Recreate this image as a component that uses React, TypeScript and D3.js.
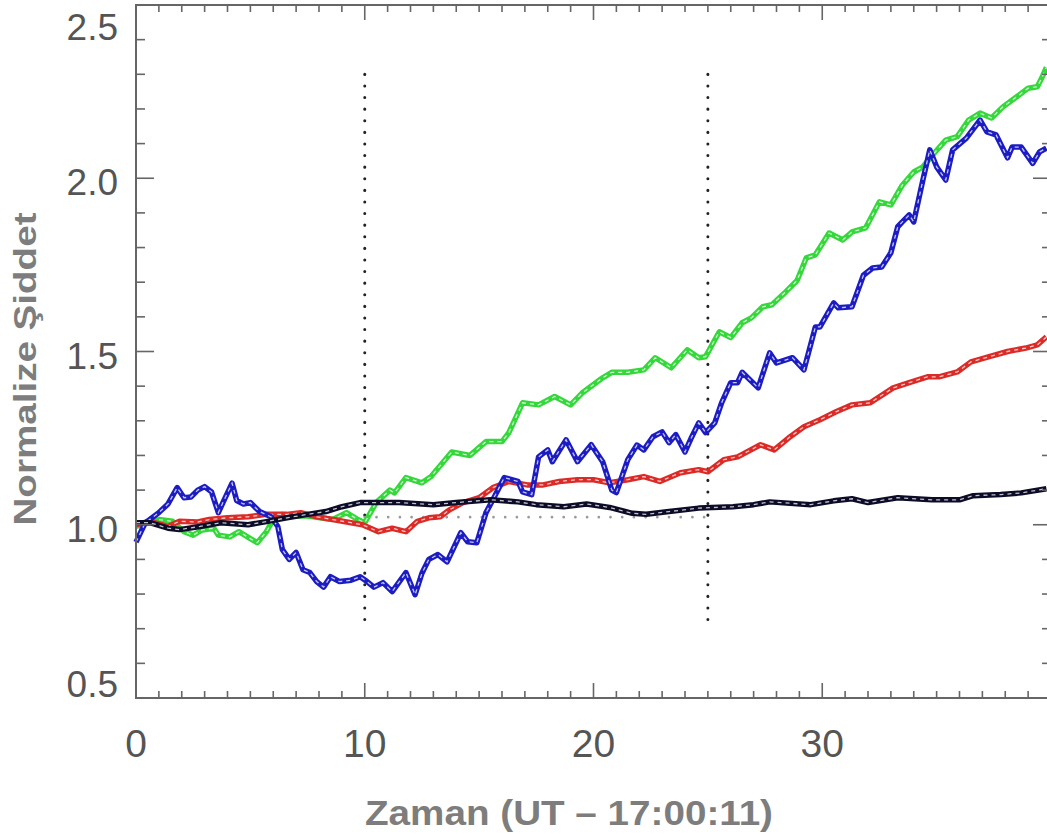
import React from 'react';
import * as d3 from 'd3';

// time (s since 17:00:11) / normalized intensity
const blueT = [0, 0.4, 1.0, 1.4, 1.8, 2.1, 2.4, 2.7, 3.0, 3.3, 3.6, 3.8, 4.2, 4.4, 4.7, 5.0, 5.4, 5.9, 6.2, 6.4, 6.7, 7.0, 7.3, 7.6, 7.9, 8.2, 8.5, 8.9, 9.4, 9.8, 10.1, 10.4, 10.8, 11.2, 11.8, 12.2, 12.5, 12.8, 13.2, 13.6, 14.2, 14.5, 14.9, 15.3, 15.6, 16.1, 16.7, 16.9, 17.3, 17.6, 18.0, 18.2, 18.8, 19.3, 19.9, 20.4, 20.8, 21.0, 21.5, 21.9, 22.2, 22.6, 23.0, 23.3, 23.6, 24.0, 24.3, 24.6, 24.9, 25.3, 25.6, 26.0, 26.3, 26.5, 27.2, 27.7, 28.0, 28.7, 29.2, 29.7, 29.9, 30.5, 30.7, 31.3, 31.8, 32.2, 32.6, 33.0, 33.3, 33.5, 33.8, 34.0, 34.4, 34.7, 35.0, 35.4, 35.7, 36.3, 36.9, 37.2, 37.6, 38.1, 38.3, 38.7, 39.2, 39.5, 39.8];
const blueV = [0.95, 1.005, 1.035, 1.06, 1.107, 1.078, 1.08, 1.1, 1.11, 1.095, 1.035, 1.064, 1.12, 1.07, 1.06, 1.064, 1.038, 1.023, 0.995, 0.928, 0.9, 0.92, 0.87, 0.862, 0.836, 0.82, 0.85, 0.836, 0.84, 0.85, 0.836, 0.82, 0.833, 0.807, 0.862, 0.798, 0.86, 0.9, 0.914, 0.893, 0.977, 0.951, 0.948, 1.035, 1.072, 1.136, 1.125, 1.095, 1.087, 1.196, 1.216, 1.182, 1.245, 1.182, 1.231, 1.182, 1.1, 1.093, 1.188, 1.23, 1.216, 1.254, 1.268, 1.237, 1.26, 1.21, 1.254, 1.294, 1.266, 1.294, 1.352, 1.41, 1.41, 1.44, 1.395, 1.496, 1.467, 1.482, 1.447, 1.571, 1.571, 1.64, 1.626, 1.629, 1.72, 1.741, 1.744, 1.785, 1.86, 1.874, 1.894, 1.874, 1.995, 2.082, 2.033, 1.995, 2.082, 2.116, 2.168, 2.134, 2.125, 2.059, 2.09, 2.09, 2.043, 2.076, 2.087];

const greenT = [0, 1.0, 1.6, 2.1, 2.5, 2.9, 3.4, 3.6, 4.1, 4.5, 5.0, 5.3, 5.7, 6.0, 6.4, 6.9, 7.5, 8.6, 9.2, 9.7, 10.0, 10.5, 11.1, 11.3, 11.8, 12.5, 12.9, 13.8, 14.6, 15.3, 16.0, 16.3, 16.9, 17.6, 18.3, 19.0, 19.5, 20.4, 20.8, 21.5, 22.2, 22.7, 23.4, 24.1, 24.6, 24.9, 25.5, 26.0, 26.5, 26.9, 27.4, 27.8, 28.4, 28.9, 29.3, 29.7, 30.3, 30.9, 31.3, 31.9, 32.5, 33.0, 33.5, 34.0, 34.4, 34.9, 35.4, 35.9, 36.4, 36.9, 37.4, 37.9, 38.5, 39.0, 39.4, 39.6, 39.8];
const greenV = [0.995, 1.015, 1.01, 0.98, 0.97, 0.985, 0.99, 0.97, 0.965, 0.98, 0.96, 0.948, 0.98, 1.015, 1.03, 1.025, 1.025, 1.015, 1.035, 1.015, 1.006, 1.064, 1.1, 1.092, 1.136, 1.121, 1.139, 1.21, 1.2, 1.24, 1.24, 1.266, 1.352, 1.346, 1.37, 1.346, 1.38, 1.424, 1.44, 1.44, 1.447, 1.482, 1.453, 1.505, 1.482, 1.485, 1.557, 1.54, 1.583, 1.597, 1.629, 1.635, 1.672, 1.705, 1.77, 1.779, 1.842, 1.822, 1.845, 1.857, 1.932, 1.923, 1.98, 2.018, 2.033, 2.073, 2.11, 2.12, 2.168, 2.188, 2.174, 2.206, 2.235, 2.26, 2.264, 2.29, 2.32];

const redT = [0, 0.6, 1.4, 1.9, 2.7, 3.2, 4.0, 4.9, 5.7, 6.6, 7.2, 7.9, 8.6, 9.4, 9.9, 10.6, 11.2, 11.8, 12.3, 12.8, 13.3, 13.7, 14.3, 15.0, 15.6, 16.3, 17.1, 17.8, 18.5, 19.3, 20.0, 20.7, 21.5, 22.2, 22.9, 23.8, 24.6, 25.0, 25.7, 26.3, 27.3, 27.9, 28.6, 29.2, 29.9, 30.6, 31.3, 32.1, 33.1, 33.8, 34.6, 35.1, 35.9, 36.5, 37.3, 38.1, 38.9, 39.4, 39.8];
const redV = [1.0, 1.01, 0.995, 1.01, 1.008, 1.015, 1.02, 1.023, 1.03, 1.03, 1.035, 1.023, 1.015, 1.006, 1.0, 0.98, 0.99, 0.98, 1.01, 1.02, 1.023, 1.043, 1.064, 1.078, 1.107, 1.125, 1.115, 1.115, 1.125, 1.13, 1.13, 1.121, 1.13, 1.139, 1.125, 1.15, 1.159, 1.153, 1.188, 1.196, 1.231, 1.216, 1.254, 1.283, 1.303, 1.326, 1.346, 1.352, 1.395, 1.41, 1.427, 1.427, 1.441, 1.47, 1.485, 1.5, 1.51, 1.519, 1.542];

const blackT = [0, 0.6, 1.4, 1.9, 2.8, 3.7, 4.9, 5.7, 6.6, 7.5, 8.3, 9.0, 9.8, 10.5, 11.5, 13.0, 14.0, 15.5, 16.7, 17.5, 18.7, 19.7, 20.7, 21.7, 22.3, 23.3, 24.6, 26.1, 27.0, 27.7, 29.5, 30.5, 31.3, 32.0, 33.3, 34.8, 36.0, 36.6, 37.8, 38.7, 39.8];
const blackV = [1.006, 1.006, 0.99, 0.986, 0.995, 1.006, 1.0, 1.009, 1.02, 1.03, 1.038, 1.052, 1.064, 1.064, 1.064, 1.058, 1.064, 1.072, 1.066, 1.058, 1.052, 1.06, 1.05, 1.033, 1.03, 1.038, 1.048, 1.052, 1.058, 1.066, 1.058, 1.069, 1.075, 1.064, 1.078, 1.072, 1.072, 1.084, 1.087, 1.092, 1.104];

const series = [
  { name: 'green', color: '#35d83a', t: greenT, v: greenV },
  { name: 'red', color: '#dc2a26', t: redT, v: redV },
  { name: 'blue', color: '#1c1cc4', t: blueT, v: blueV },
  { name: 'black', color: '#0c0c28', t: blackT, v: blackV },
];

const xTickLabels = [0, 10, 20, 30];
const yTickLabels = [0.5, 1.0, 1.5, 2.0, 2.5];
const markerTimes = [10, 25];
const markerRange = [0.7, 2.3];
const baseLine = { from: 10, to: 25, level: 1.022 };

const W = 1047;
const H = 834;

const App = () => {
  const x = d3.scaleLinear().domain([0, 40]).range([136, 1051]);
  const y = d3.scaleLinear().domain([0.5, 2.5]).range([698, 5]);

  const line = d3
    .line<[number, number]>()
    .x((d) => x(d[0]))
    .y((d) => y(d[1]));

  const xMinor = d3.range(0, 41, 1);
  const yMinor = d3.range(5, 26, 1).map((d) => d / 10);
  const axisColor = '#666';
  const font = '"Liberation Sans", Arial, Helvetica, sans-serif';

  return (
    <svg
      width={W}
      height={H}
      viewBox={`0 0 ${W} ${H}`}
      style={{ position: 'fixed', left: 0, top: 0, background: '#fff' }}
    >
      {/* dotted markers */}
      {markerTimes.map((t) => (
        <line
          key={t}
          x1={x(t)}
          x2={x(t)}
          y1={y(markerRange[1])}
          y2={y(markerRange[0])}
          stroke="#222"
          strokeWidth={3}
          strokeDasharray="0.1 11.5"
          strokeLinecap="round"
        />
      ))}
      <line
        x1={x(baseLine.from)}
        x2={x(baseLine.to)}
        y1={y(baseLine.level)}
        y2={y(baseLine.level)}
        stroke="#999"
        strokeWidth={2.6}
        strokeDasharray="0.1 11.6"
        strokeLinecap="round"
      />

      {/* series */}
      {series.map((s) => {
        const pts = s.t.map((t, i) => [t, s.v[i]] as [number, number]);
        const d = line(pts) || '';
        return (
          <g key={s.name}>
            <path d={d} fill="none" stroke={s.color} strokeWidth={5.5} strokeLinejoin="round" />
            <path
              d={d}
              fill="none"
              stroke="#fff"
              strokeOpacity={0.75}
              strokeWidth={1.3}
              strokeDasharray="4 4"
            />
          </g>
        );
      })}

      {/* frame */}
      <rect
        x={x(0)}
        y={y(2.5)}
        width={x(40) - x(0)}
        height={y(0.5) - y(2.5)}
        fill="none"
        stroke={axisColor}
        strokeWidth={2}
      />

      {/* x ticks, bottom and top */}
      {xMinor.map((t) => {
        const len = t % 10 === 0 ? 15 : 7;
        return (
          <g key={`x${t}`} stroke={axisColor} strokeWidth={1.6}>
            <line x1={x(t)} x2={x(t)} y1={y(0.5)} y2={y(0.5) - len} />
            <line x1={x(t)} x2={x(t)} y1={y(2.5)} y2={y(2.5) + len} />
          </g>
        );
      })}

      {/* y ticks, left and right */}
      {yMinor.map((v) => {
        const major = Math.round(v * 10) % 5 === 0;
        const len = major ? 18 : 9;
        return (
          <g key={`y${v}`} stroke={axisColor} strokeWidth={1.6}>
            <line x1={x(0)} x2={x(0) + len} y1={y(v)} y2={y(v)} />
            <line x1={x(40)} x2={x(40) - len} y1={y(v)} y2={y(v)} />
          </g>
        );
      })}

      {/* tick labels */}
      {xTickLabels.map((t) => (
        <text
          key={`xl${t}`}
          x={x(t)}
          y={757}
          textAnchor="middle"
          fontFamily={font}
          fontSize={39}
          fill="#555"
        >
          {t}
        </text>
      ))}
      {yTickLabels.map((v) => (
        <text
          key={`yl${v}`}
          x={118}
          y={Math.max(40, Math.min(697, y(v) + 17))}
          textAnchor="end"
          fontFamily={font}
          fontSize={37}
          fill="#555"
        >
          {v.toFixed(1)}
        </text>
      ))}

      {/* axis titles */}
      <text
        x={569}
        y={825}
        textAnchor="middle"
        fontFamily={font}
        fontWeight="bold"
        fontSize={35}
        fill="#7d7d7d"
        textLength={408}
        lengthAdjust="spacingAndGlyphs"
      >
        Zaman (UT – 17:00:11)
      </text>
      <text
        transform={`translate(36,369) rotate(-90)`}
        textAnchor="middle"
        fontFamily={font}
        fontWeight="bold"
        fontSize={31}
        fill="#7d7d7d"
        textLength={313}
        lengthAdjust="spacingAndGlyphs"
      >
        Normalize Şiddet
      </text>
    </svg>
  );
};

export default App;
